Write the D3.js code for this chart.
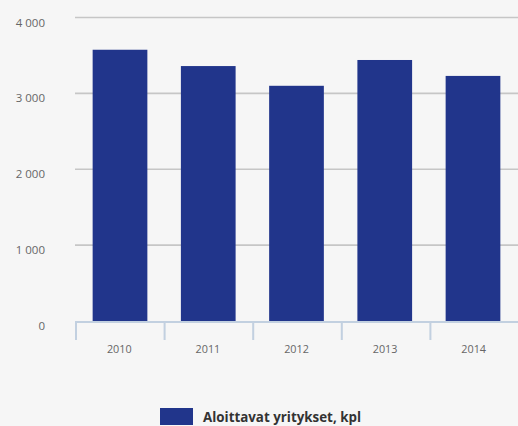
<!DOCTYPE html>
<html>
<head>
<meta charset="utf-8">
<script src="https://cdn.jsdelivr.net/npm/d3@7"></script>
<style>
  body { margin: 0; background: #f6f6f6; }
  #chartArea { width: 518px; height: 426px; }
</style>
</head>
<body>
<div id="chartArea"></div>
<script>
const years = ["2010", "2011", "2012", "2013", "2014"];
const startups = [3575, 3360, 3100, 3440, 3230];
const yTicks = [0, 1000, 2000, 3000, 4000];
const seriesName = "Aloittavat yritykset, kpl";

const width = 518;
const height = 426;
const margin = { top: 17.5, left: 75, bottom: 105, right: 0 };
const iwidth = width - margin.left - margin.right;
const iheight = height - margin.top - margin.bottom;

const svg = d3.select("#chartArea").append("svg")
  .attr("width", width)
  .attr("height", height);

svg.append("rect").attr("width", width).attr("height", height).attr("fill", "#f6f6f6");

const g = svg.append("g").attr("transform", `translate(${margin.left},${margin.top})`);

const y = d3.scaleLinear().domain([0, 4000]).range([iheight, 0]);
const x = d3.scaleBand().domain(years).range([0, iwidth]).paddingInner(0.38).paddingOuter(0.2);
const xTicks = d3.scaleBand().domain(years).range([0, iwidth]);

const fmt = d => d3.format(",")(d).replace(",", "\u2009");

// gridlines + y labels
g.selectAll(".grid").data(yTicks.filter(d => d > 0)).enter().append("line")
  .attr("x1", 0).attr("x2", iwidth)
  .attr("y1", d => y(d)).attr("y2", d => y(d))
  .attr("stroke", "#c6c6c6").attr("stroke-width", 1.6);

g.selectAll(".ylab").data(yTicks).enter().append("text")
  .attr("x", -30).attr("y", d => y(d) + 9)
  .attr("text-anchor", "end")
  .style("font-family", "'Open Sans', sans-serif")
  .style("font-size", "11.5px")
  .style("fill", "#666")
  .text(d => d === 0 ? "0" : d3.format(",")(d).replace(",", " "));

// bars
g.selectAll("rect.bar").data(startups).enter().append("rect")
  .attr("class", "bar")
  .attr("x", (d, i) => x(years[i]))
  .attr("y", d => y(d))
  .attr("width", x.bandwidth())
  .attr("height", d => iheight - y(d))
  .attr("fill", "#21358b");

// x axis
const axisColor = "#c2d0e0";
g.append("line")
  .attr("x1", 0).attr("x2", iwidth)
  .attr("y1", iheight + 1).attr("y2", iheight + 1)
  .attr("stroke", axisColor).attr("stroke-width", 2);

g.selectAll(".xtick").data(years).enter().append("line")
  .attr("x1", d => xTicks(d) + 1).attr("x2", d => xTicks(d) + 1)
  .attr("y1", iheight).attr("y2", iheight + 19)
  .attr("stroke", axisColor).attr("stroke-width", 2);

g.selectAll(".xlab").data(years).enter().append("text")
  .attr("x", d => xTicks(d) + xTicks.bandwidth() / 2)
  .attr("y", iheight + 32)
  .attr("text-anchor", "middle")
  .style("font-family", "'Open Sans', sans-serif")
  .style("font-size", "10.8px")
  .style("fill", "#666")
  .text(d => d);

// legend
const legend = svg.append("g").attr("transform", "translate(160,408)");
legend.append("rect").attr("width", 33).attr("height", 17).attr("fill", "#21358b");
legend.append("text")
  .attr("x", 43).attr("y", 14)
  .style("font-family", "'Liberation Sans Narrow', 'Open Sans', sans-serif")
  .style("font-weight", "bold")
  .style("font-size", "14px")
  .style("fill", "#333")
  .attr("textLength", 158)
  .attr("lengthAdjust", "spacingAndGlyphs")
  .text(seriesName);
</script>
</body>
</html>
